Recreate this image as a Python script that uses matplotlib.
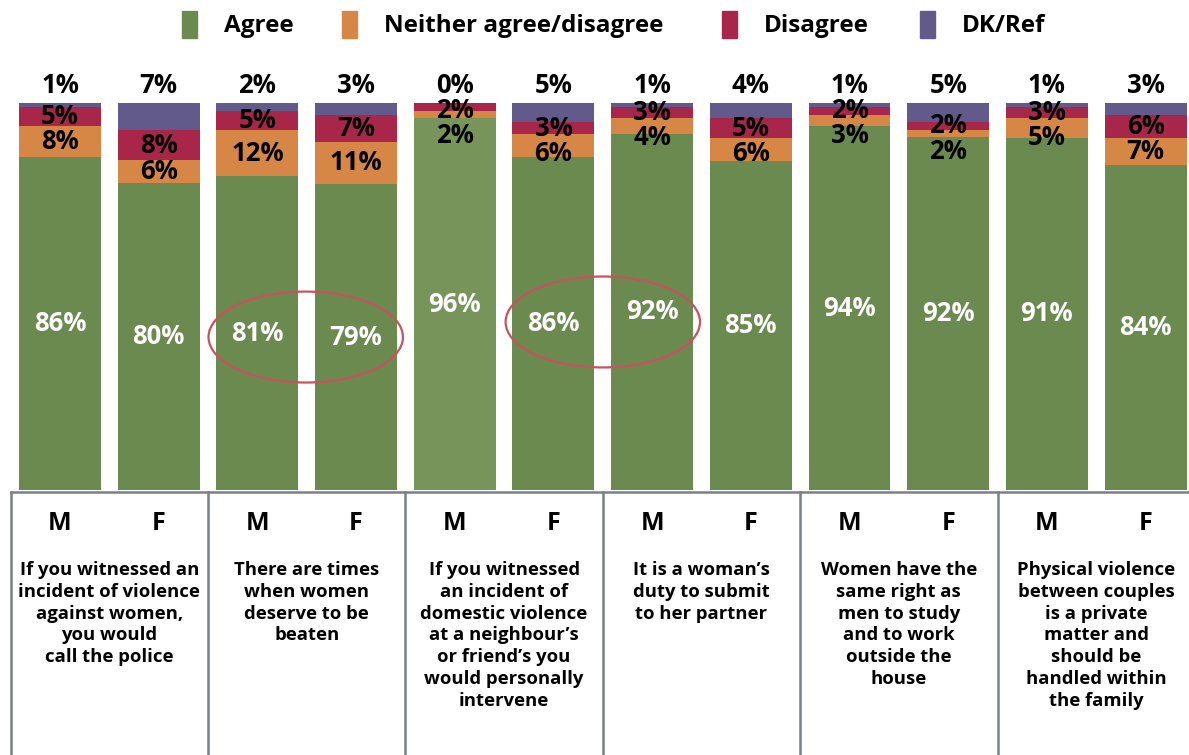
import matplotlib.pyplot as plt
import numpy as np
from matplotlib.patches import Rectangle, Ellipse

plt.rcParams['font.family'] = ['Open Sans', 'DejaVu Sans']
plt.rcParams['font.weight'] = 'bold'

# data: one bar per sex for each statement
sexes = ["M", "F"] * 6
agree = [86, 80, 81, 79, 96, 86, 92, 85, 94, 92, 91, 84]
neither = [8, 6, 12, 11, 2, 6, 4, 6, 3, 2, 5, 7]
disagree = [5, 8, 5, 7, 2, 3, 3, 5, 2, 2, 3, 6]
dkref = [1, 7, 2, 3, 0, 5, 1, 4, 1, 5, 1, 3]
statements = [
    "If you witnessed an\nincident of violence\nagainst women,\nyou would\ncall the police",
    "There are times\nwhen women\ndeserve to be\nbeaten",
    "If you witnessed\nan incident of\ndomestic violence\nat a neighbour’s\nor friend’s you\nwould personally\nintervene",
    "It is a woman’s\nduty to submit\nto her partner",
    "Women have the\nsame right as\nmen to study\nand to work\noutside the\nhouse",
    "Physical violence\nbetween couples\nis a private\nmatter and\nshould be\nhandled within\nthe family",
]
series = ["Agree", "Neither agree/disagree", "Disagree", "DK/Ref"]
colors = ["#6b8a50", "#d68746", "#a8264a", "#635a8c"]

W, H = 1189, 755
fig = plt.figure(figsize=(W / 100, H / 100), dpi=100)
ax = fig.add_axes([0, 0, 1, 1])
ax.set_xlim(-0.608, 11.44)
ax.set_ylim(-68.5, 126.6)
ax.axis("off")

x = np.arange(len(agree))
vals = np.array([agree, neither, disagree, dkref], dtype=float)
shares = vals / vals.sum(axis=0) * 100
bottom = np.zeros(len(x))
for k in range(4):
    cols = [colors[k]] * len(x)
    if k == 0:
        cols[4] = "#77955a"
    ax.bar(x, shares[k], 0.83, bottom=bottom, color=cols, linewidth=0)
    bottom += shares[k]

lab = dict(fontsize=18.5, fontweight="bold", ha="center", va="center")
for i in x:
    a, n, d = shares[0, i], shares[1, i], shares[2, i]
    ax.text(i, a / 2, f"{agree[i]}%", color="white", **lab)
    y_d = min(a + n + d / 2, 98)
    y_n = min(a + n / 2, y_d - 6.5)
    ax.text(i, y_d, f"{disagree[i]}%", color="black", **lab)
    ax.text(i, y_n, f"{neither[i]}%", color="black", **lab)
    ax.text(i, 104.5, f"{dkref[i]}%", color="black", **lab)

# table under the bars
grey = "#7a8087"
ax.plot([-0.5, 11.6], [-0.6, -0.6], color=grey, lw=1.8, clip_on=False)
for g in range(6):
    ax.plot([2 * g - 0.5] * 2, [-0.6, -70], color=grey, lw=1.8, clip_on=False)
    ax.text(2 * g + 0.5, -18.3, statements[g], fontsize=13.3, fontweight="bold",
            ha="center", va="top", linespacing=1.28)
for i in x:
    ax.text(i, -8.8, sexes[i], fontsize=18, fontweight="bold", ha="center", va="center")

# highlight circles
for cx, cy in [(2.49, 39.5), (5.5, 43.4)]:
    ax.add_patch(Ellipse((cx, cy), 1.97, 23.5, fill=False, edgecolor="#c9525c", lw=1.6))

# legend laid out by hand, like the original
for px, name, c in zip([182, 342, 722, 920], series, colors):
    fig.patches.append(Rectangle((px / W, 1 - 38 / H), 15 / W, 27 / H,
                                 transform=fig.transFigure, color=c))
    fig.text((px + 42) / W, 1 - 26 / H, name, fontsize=17.5, fontweight="bold",
             ha="left", va="center")

fig.savefig("out.png", dpi=100)
